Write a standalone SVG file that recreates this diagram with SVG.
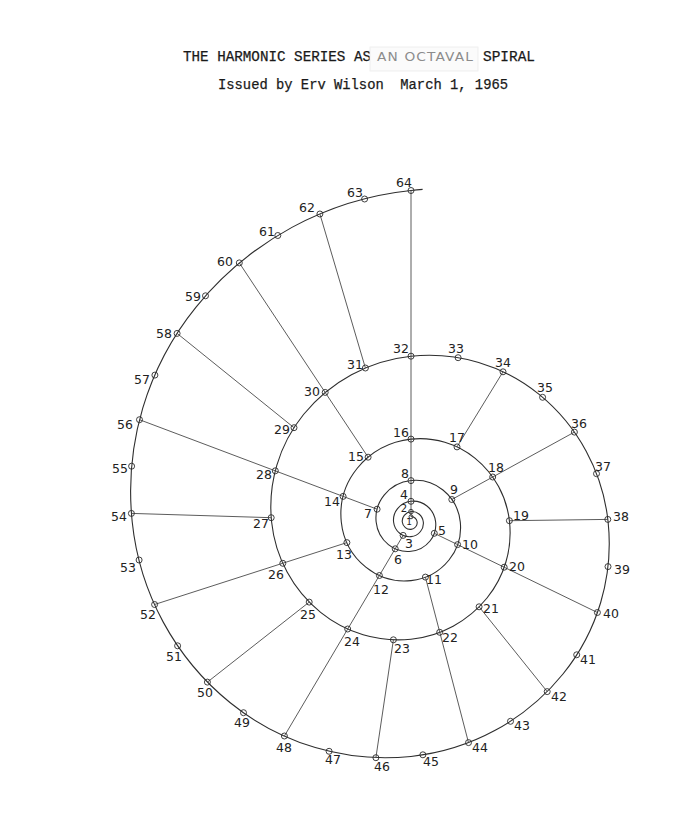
<svg xmlns="http://www.w3.org/2000/svg" width="699" height="840" viewBox="0 0 699 840">
<style>
.tt{font-family:"Liberation Mono","Courier New",monospace;font-size:14px;fill:#1a1a1a;stroke:#1a1a1a;stroke-width:0.25}
.hand{font-family:"DejaVu Sans","Liberation Sans",sans-serif;font-size:12px;fill:#8c8c8c;letter-spacing:1px}
.spiral{fill:none;stroke:#2e2e2e;stroke-width:1.1}
.spoke{stroke:#4a4a4a;stroke-width:0.9;fill:none}
.nd circle{fill:none;stroke:#2a2a2a;stroke-width:0.9}
.nd text{font-family:"DejaVu Sans","Liberation Sans",sans-serif;font-size:12.5px;fill:#222;text-anchor:middle}
</style>
<rect width="699" height="840" fill="#ffffff"/>
<g id="title">
<text class="tt" x="183" y="61" textLength="188" lengthAdjust="spacingAndGlyphs">THE HARMONIC SERIES AS</text>
<rect x="370" y="47" width="108" height="24" fill="#fbfbfb" stroke="#ececec" stroke-width="0.8"/>
<text class="hand" x="377" y="61" textLength="97" lengthAdjust="spacingAndGlyphs">AN OCTAVAL</text>
<text class="tt" x="483" y="61" textLength="52" lengthAdjust="spacingAndGlyphs">SPIRAL</text>
<text class="tt" x="218" y="89" textLength="290" lengthAdjust="spacingAndGlyphs" xml:space="preserve">Issued by Erv Wilson  March 1, 1965</text>
</g>
<g id="connectors">
<path class="spiral" d="M 411 516.82 A 5.44 5.44 0 0 1 414.99 518.01 A 5.93 5.93 0 0 1 417.16 522 A 6.47 6.47 0 0 1 415.75 526.75 A 7.06 7.06 0 0 1 411 529.33 A 7.70 7.70 0 0 1 405.35 527.65 A 8.39 8.39 0 0 1 402.29 522 A 9.15 9.15 0 0 1 404.28 515.28 A 9.98 9.98 0 0 1 411 511.64 A 10.88 10.88 0 0 1 418.99 514.01 A 11.87 11.87 0 0 1 423.32 522 A 12.94 12.94 0 0 1 420.50 531.50 A 14.11 14.11 0 0 1 411 536.65 A 15.39 15.39 0 0 1 399.70 533.30 A 16.78 16.78 0 0 1 393.58 522 A 18.30 18.30 0 0 1 397.57 508.57 A 19.96 19.96 0 0 1 411 501.28 A 21.77 21.77 0 0 1 426.98 506.02 A 23.74 23.74 0 0 1 435.64 522 A 25.88 25.88 0 0 1 430.00 541.00 A 28.22 28.22 0 0 1 411 551.30 A 30.78 30.78 0 0 1 388.40 544.60 A 33.57 33.57 0 0 1 376.15 522 A 36.61 36.61 0 0 1 384.13 495.13 A 39.92 39.92 0 0 1 411 480.56 A 43.53 43.53 0 0 1 442.96 490.04 A 47.47 47.47 0 0 1 460.28 522 A 51.77 51.77 0 0 1 449.00 560.00 A 56.45 56.45 0 0 1 411 580.61 A 61.57 61.57 0 0 1 365.81 567.19 A 67.14 67.14 0 0 1 341.30 522 A 73.22 73.22 0 0 1 357.26 468.26 A 79.84 79.84 0 0 1 411 439.12 A 87.07 87.07 0 0 1 474.91 458.09 A 94.95 94.95 0 0 1 509.56 522 A 103.54 103.54 0 0 1 486.99 597.99 A 112.90 112.90 0 0 1 411 639.22 A 123.14 123.14 0 0 1 320.61 612.39 A 134.28 134.28 0 0 1 271.61 522 A 146.43 146.43 0 0 1 303.52 414.52 A 159.68 159.68 0 0 1 411 356.24 A 174.13 174.13 0 0 1 538.82 394.18 A 189.90 189.90 0 0 1 608.12 522 A 207.08 207.08 0 0 1 562.99 673.99 A 225.80 225.80 0 0 1 411 756.43 A 246.27 246.27 0 0 1 230.23 702.77 A 268.56 268.56 0 0 1 132.22 522 A 292.86 292.86 0 0 1 196.04 307.04 A 319.35 319.35 0 0 1 411 190.48 A 332 332 0 0 1 422.61 189.40"/>
<line class="spoke" x1="411" y1="516.8" x2="411" y2="190.5"/>
<line class="spoke" x1="403.1" y1="535.4" x2="284.4" y2="736.0"/>
<line class="spoke" x1="434.3" y1="533.3" x2="597.4" y2="612.5"/>
<line class="spoke" x1="377.1" y1="509.2" x2="139.5" y2="419.7"/>
<line class="spoke" x1="451.8" y1="499.5" x2="574.4" y2="432.1"/>
<line class="spoke" x1="425.4" y1="577.1" x2="468.5" y2="742.6"/>
<line class="spoke" x1="346.9" y1="542.6" x2="154.6" y2="604.5"/>
<line class="spoke" x1="368.1" y1="457.2" x2="239.3" y2="262.9"/>
<line class="spoke" x1="457.0" y1="446.9" x2="503.0" y2="371.8"/>
<line class="spoke" x1="509.4" y1="520.7" x2="607.8" y2="519.4"/>
<line class="spoke" x1="479.1" y1="606.8" x2="547.2" y2="691.6"/>
<line class="spoke" x1="393.4" y1="639.8" x2="375.9" y2="757.7"/>
<line class="spoke" x1="309.2" y1="602.1" x2="207.4" y2="682.1"/>
<line class="spoke" x1="271.2" y1="517.7" x2="131.4" y2="513.4"/>
<line class="spoke" x1="294.0" y1="427.7" x2="177.1" y2="333.4"/>
<line class="spoke" x1="365.4" y1="368.0" x2="319.9" y2="214.0"/>
</g>
<g class="nd">
<g id="n1"><circle cx="411" cy="516.8" r="2"/><text x="409" y="525" style="font-size:9px">1</text></g>
<g id="n2"><circle cx="411" cy="511.6" r="2.3"/><text x="404" y="512" style="font-size:10px">2</text></g>
<g id="n3"><circle cx="403.1" cy="535.4" r="3"/><text x="409" y="548">3</text></g>
<g id="n4"><circle cx="411" cy="501.3" r="3"/><text x="404" y="499">4</text></g>
<g id="n5"><circle cx="434.3" cy="533.3" r="3"/><text x="442" y="535">5</text></g>
<g id="n6"><circle cx="395.2" cy="548.8" r="3"/><text x="398" y="564">6</text></g>
<g id="n7"><circle cx="377.1" cy="509.2" r="3"/><text x="368" y="518">7</text></g>
<g id="n8"><circle cx="411" cy="480.6" r="3"/><text x="405" y="478">8</text></g>
<g id="n9"><circle cx="451.8" cy="499.5" r="3"/><text x="454" y="494">9</text></g>
<g id="n10"><circle cx="457.6" cy="544.6" r="3"/><text x="470" y="549">10</text></g>
<g id="n11"><circle cx="425.4" cy="577.1" r="3"/><text x="434" y="584">11</text></g>
<g id="n12"><circle cx="379.4" cy="575.5" r="3"/><text x="381" y="594">12</text></g>
<g id="n13"><circle cx="346.9" cy="542.6" r="3"/><text x="344" y="559">13</text></g>
<g id="n14"><circle cx="343.1" cy="496.4" r="3"/><text x="332" y="506">14</text></g>
<g id="n15"><circle cx="368.1" cy="457.2" r="3"/><text x="356" y="461">15</text></g>
<g id="n16"><circle cx="411" cy="439.1" r="3"/><text x="401" y="437">16</text></g>
<g id="n17"><circle cx="457.0" cy="446.9" r="3"/><text x="457" y="442">17</text></g>
<g id="n18"><circle cx="492.7" cy="477.0" r="3"/><text x="496" y="472">18</text></g>
<g id="n19"><circle cx="509.4" cy="520.7" r="3"/><text x="521" y="520">19</text></g>
<g id="n20"><circle cx="504.2" cy="567.2" r="3"/><text x="517" y="571">20</text></g>
<g id="n21"><circle cx="479.1" cy="606.8" r="3"/><text x="491" y="613">21</text></g>
<g id="n22"><circle cx="439.7" cy="632.3" r="3"/><text x="450" y="642">22</text></g>
<g id="n23"><circle cx="393.4" cy="639.8" r="3"/><text x="402" y="653">23</text></g>
<g id="n24"><circle cx="347.7" cy="629.0" r="3"/><text x="352" y="646">24</text></g>
<g id="n25"><circle cx="309.2" cy="602.1" r="3"/><text x="308" y="619">25</text></g>
<g id="n26"><circle cx="282.8" cy="563.3" r="3"/><text x="276" y="579">26</text></g>
<g id="n27"><circle cx="271.2" cy="517.7" r="3"/><text x="261" y="528">27</text></g>
<g id="n28"><circle cx="275.3" cy="470.8" r="3"/><text x="264" y="479">28</text></g>
<g id="n29"><circle cx="294.0" cy="427.7" r="3"/><text x="282" y="434">29</text></g>
<g id="n30"><circle cx="325.2" cy="392.4" r="3"/><text x="312" y="396">30</text></g>
<g id="n31"><circle cx="365.4" cy="368.0" r="3"/><text x="355" y="369">31</text></g>
<g id="n32"><circle cx="411" cy="356.2" r="3"/><text x="401" y="353">32</text></g>
<g id="n33"><circle cx="458.1" cy="357.7" r="3"/><text x="456" y="353">33</text></g>
<g id="n34"><circle cx="503.0" cy="371.8" r="3"/><text x="503" y="367">34</text></g>
<g id="n35"><circle cx="542.6" cy="397.3" r="3"/><text x="545" y="392">35</text></g>
<g id="n36"><circle cx="574.4" cy="432.1" r="3"/><text x="579" y="428">36</text></g>
<g id="n37"><circle cx="596.5" cy="473.7" r="3"/><text x="603" y="471">37</text></g>
<g id="n38"><circle cx="607.8" cy="519.4" r="3"/><text x="621" y="521">38</text></g>
<g id="n39"><circle cx="608.0" cy="566.6" r="3"/><text x="622" y="574">39</text></g>
<g id="n40"><circle cx="597.4" cy="612.5" r="3"/><text x="611" y="618">40</text></g>
<g id="n41"><circle cx="576.7" cy="654.8" r="3"/><text x="588" y="664">41</text></g>
<g id="n42"><circle cx="547.2" cy="691.6" r="3"/><text x="559" y="701">42</text></g>
<g id="n43"><circle cx="510.5" cy="721.3" r="3"/><text x="522" y="730">43</text></g>
<g id="n44"><circle cx="468.5" cy="742.6" r="3"/><text x="480" y="752">44</text></g>
<g id="n45"><circle cx="422.9" cy="754.8" r="3"/><text x="431" y="766">45</text></g>
<g id="n46"><circle cx="375.9" cy="757.7" r="3"/><text x="382" y="771">46</text></g>
<g id="n47"><circle cx="329.1" cy="751.3" r="3"/><text x="333" y="764">47</text></g>
<g id="n48"><circle cx="284.4" cy="736.0" r="3"/><text x="284" y="752">48</text></g>
<g id="n49"><circle cx="243.5" cy="712.7" r="3"/><text x="242" y="727">49</text></g>
<g id="n50"><circle cx="207.4" cy="682.1" r="3"/><text x="205" y="697">50</text></g>
<g id="n51"><circle cx="177.6" cy="645.8" r="3"/><text x="174" y="661">51</text></g>
<g id="n52"><circle cx="154.6" cy="604.5" r="3"/><text x="148" y="619">52</text></g>
<g id="n53"><circle cx="139.1" cy="560.0" r="3"/><text x="128" y="572">53</text></g>
<g id="n54"><circle cx="131.4" cy="513.4" r="3"/><text x="119" y="521">54</text></g>
<g id="n55"><circle cx="131.6" cy="466.2" r="3"/><text x="120" y="473">55</text></g>
<g id="n56"><circle cx="139.5" cy="419.7" r="3"/><text x="125" y="429">56</text></g>
<g id="n57"><circle cx="154.9" cy="375.1" r="3"/><text x="142" y="384">57</text></g>
<g id="n58"><circle cx="177.1" cy="333.4" r="3"/><text x="164" y="338">58</text></g>
<g id="n59"><circle cx="205.5" cy="295.8" r="3"/><text x="193" y="301">59</text></g>
<g id="n60"><circle cx="239.3" cy="262.9" r="3"/><text x="225" y="266">60</text></g>
<g id="n61"><circle cx="277.8" cy="235.5" r="3"/><text x="267" y="236">61</text></g>
<g id="n62"><circle cx="319.9" cy="214.0" r="3"/><text x="307" y="212">62</text></g>
<g id="n63"><circle cx="364.6" cy="199.0" r="3"/><text x="355" y="197">63</text></g>
<g id="n64"><circle cx="411" cy="190.5" r="3"/><text x="404" y="187">64</text></g>
</g>
</svg>
